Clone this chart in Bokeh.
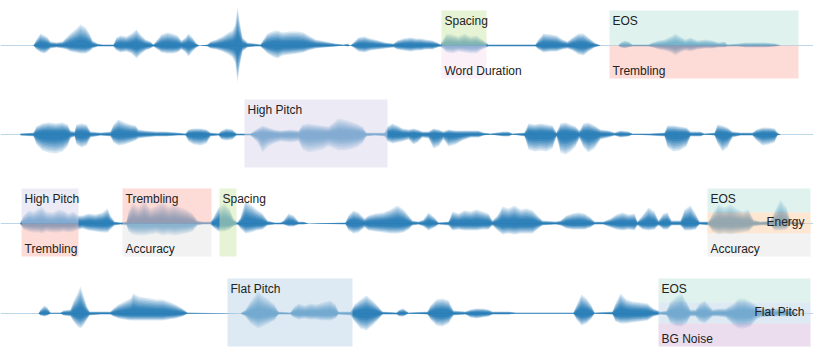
from bokeh.plotting import figure
from bokeh.models import Range1d
from bokeh.core.properties import value
from bokeh.embed import file_html
from bokeh.resources import INLINE

# ---- waveform envelopes: (time px, upper amplitude, lower amplitude)
row1_env = [(33,0,0),(36,6,4),(40,12,7),(44,10,8),(47,8,6),(50,4,3),(56,3,2),(62,4,3),(66,8,4),(70,12,6),
    (75,16,7),(80,21,8),(85,18,8),(89,12,6),(92,5,3),(97,2,1),(102,1,1),(113,1,1),(116,8,5),(120,10,7),
    (126,9,6),(131,12,8),(136,16,13),(140,11,9),(145,6,5),(150,4,3),(153,1,1),(157,6,4),(161,11,7),(167,13,8),
    (172,12,8),(177,10,7),(181,5,4),(185,8,7),(188,12,11),(192,8,6),(196,2,2),(199,0,0),(207,1,1),(210,4,3),
    (216,6,4),(222,9,6),(228,13,9),(232,15,12),(235,22,18),(237,39,37),(239,25,22),(242,8,6),(247,3,2),(255,2,1),
    (260,1,1),(263,6,4),(267,12,8),(272,14,11),(277,15,13),(282,13,10),(290,14,9),(297,14,8),(303,13,7),(308,10,5),
    (315,6,3),(325,4,2),(335,2,1),(343,1,0),(347,2,1),(350,0,0),(353,3,2),(358,8,6),(364,9,7),(370,7,5),
    (378,5,4),(385,3,3),(393,2,2),(397,5,4),(403,7,5),(410,8,6),(416,7,5),(420,7,5),(425,6,4),(432,5,4),
    (437,3,2),(440,1,1),(442,5,3),(446,12,7),(452,11,8),(458,9,6),(464,12,7),(470,9,8),(476,10,8),(482,6,4),
    (488,1,1),(535,1,1),(538,6,4),(543,12,7),(550,11,6),(556,10,6),(562,6,4),(567,4,3),(572,8,5),(578,12,9),
    (583,12,10),(588,8,6),(594,3,2),(600,0,0),(618,0,0),(620,3,2),(624,5,3),(628,4,2),(632,1,1),(648,1,1),
    (652,3,2),(658,5,4),(664,6,5),(670,9,7),(675,12,10),(680,9,7),(685,6,5),(690,8,6),(697,5,4),(705,6,3),
    (712,5,3),(718,3,2),(724,4,2),(727,1,1),(738,2,1),(745,3,2),(755,3,2),(765,3,2),(775,2,1),(780,0,0)]

row2_env = [(20,1,1),(33,2,2),(36,8,10),(42,11,16),(48,12,18),(55,11,19),(62,12,17),(67,10,12),(70,4,4),(74,3,2),
    (76,10,10),(81,11,13),(86,10,11),(90,3,3),(100,2,1),(110,3,2),(113,10,8),(118,15,11),(124,12,10),(130,10,8),
    (135,9,6),(138,5,4),(145,4,3),(155,3,2),(165,3,2),(177,2,1),(185,1,1),(188,5,7),(193,6,10),(200,6,11),
    (206,5,9),(210,2,2),(218,1,1),(221,4,5),(226,6,6),(232,5,5),(236,1,1),(250,1,1),(257,6,8),(262,9,18),
    (268,7,12),(274,5,9),(280,4,7),(290,5,8),(298,4,7),(302,10,15),(308,11,18),(314,10,17),(322,9,15),(328,8,12),
    (333,12,14),(338,16,16),(344,15,16),(350,13,15),(356,11,13),(362,8,9),(366,2,2),(375,2,1),(384,2,2),(387,8,7),
    (392,11,9),(397,9,8),(402,6,7),(408,5,5),(413,6,10),(417,5,8),(422,3,3),(428,3,4),(433,6,14),(438,5,12),
    (443,3,5),(448,5,12),(455,4,10),(462,4,6),(470,4,3),(478,4,3),(483,2,1),(490,1,0),(503,3,2),(508,3,2),
    (512,1,0),(524,2,2),(528,11,15),(534,10,17),(540,11,16),(546,10,17),(552,9,14),(556,2,2),(560,11,18),(565,12,20),
    (570,10,17),(575,8,12),(579,4,4),(583,11,13),(588,12,18),(594,9,14),(600,5,5),(608,4,3),(614,2,1),(620,4,3),
    (628,3,2),(632,1,0),(650,1,1),(664,2,2),(667,9,13),(673,9,17),(679,8,16),(686,7,12),(690,3,2),(700,3,2),
    (704,1,0),(714,2,1),(717,10,9),(722,9,17),(727,7,13),(732,3,3),(740,2,1),(752,2,1),(756,5,6),(762,7,11),
    (768,7,10),(774,6,8),(777,2,1),(780,0,0)]

row3_env = [(20,1,1),(23,8,6),(28,13,8),(33,12,9),(38,15,9),(41,17,10),(46,12,8),(52,11,9),(58,14,9),(63,13,8),
    (68,10,9),(73,12,8),(78,8,6),(82,8,5),(88,10,7),(95,9,8),(102,11,9),(107,15,9),(110,8,6),(114,2,2),
    (120,1,1),(126,2,2),(128,12,8),(132,20,11),(138,16,12),(144,22,12),(150,15,11),(156,18,10),(162,21,12),(168,17,11),
    (174,19,12),(180,16,11),(186,14,10),(192,10,8),(197,3,2),(202,2,1),(210,2,1),(213,6,4),(218,16,8),(224,20,8),
    (229,15,6),(233,5,3),(237,1,1),(240,6,5),(245,23,10),(250,19,9),(256,14,7),(262,10,6),(267,3,2),(274,1,1),
    (280,1,1),(283,3,1),(288,10,3),(293,8,3),(298,2,1),(303,2,1),(308,0,0),(345,1,1),(348,8,7),(353,13,10),
    (358,11,9),(364,5,4),(368,8,7),(375,10,8),(383,11,9),(390,14,10),(397,18,10),(403,14,9),(408,8,6),(412,3,2),
    (418,2,1),(423,4,3),(428,11,7),(434,6,4),(438,1,1),(448,2,2),(452,12,7),(458,10,6),(464,13,7),(470,12,7),
    (476,14,7),(482,12,6),(488,10,6),(492,3,2),(497,8,7),(502,17,11),(508,15,10),(514,18,11),(520,14,10),(526,15,10),
    (532,13,10),(538,7,5),(542,3,2),(555,2,1),(560,3,2),(566,8,5),(572,10,6),(578,11,6),(584,10,6),(590,6,4),
    (594,2,1),(603,2,1),(610,5,4),(616,9,6),(622,11,7),(628,9,6),(634,10,7),(637,2,2),(642,8,6),(648,16,7),
    (654,12,6),(658,3,2),(663,10,6),(667,11,6),(671,3,2),(680,3,2),(684,14,7),(690,18,7),(695,10,6),(699,2,1),
    (708,2,2),(712,10,8),(718,19,11),(724,16,10),(730,19,11),(736,15,10),(742,12,9),(748,14,8),(753,4,3),(760,2,2),
    (770,3,2),(774,12,7),(780,24,7),(786,16,6),(790,3,1),(800,1,1),(805,0,0)]

row4_env = [(38,0,0),(40,4,2),(44,8,3),(47,6,2),(50,1,0),(60,1,0),(63,3,2),(70,4,3),(73,12,8),(77,20,13),
    (80,27,15),(83,18,12),(86,8,7),(89,2,2),(100,2,1),(110,2,1),(113,5,3),(118,9,5),(124,12,6),(130,15,7),
    (133,20,7),(138,17,7),(144,16,7),(150,15,7),(156,14,7),(162,14,7),(168,12,6),(175,9,5),(182,5,3),(187,1,0),
    (240,0,0),(245,4,3),(250,12,10),(256,20,14),(258,22,15),(262,18,13),(268,14,10),(274,9,7),(278,2,1),(290,1,1),
    (293,6,4),(298,10,6),(304,8,5),(310,10,6),(316,9,6),(322,11,7),(330,13,7),(335,9,5),(338,2,1),(350,2,2),
    (354,9,8),(360,14,15),(366,18,17),(372,13,12),(377,8,7),(382,2,1),(396,1,1),(399,4,3),(403,5,3),(408,1,0),
    (427,2,1),(430,8,6),(436,14,12),(442,15,13),(448,13,10),(453,3,2),(465,2,1),(470,4,4),(476,5,5),(482,5,4),
    (488,4,3),(492,2,1),(498,2,1),(508,2,1),(515,1,0),(573,1,0),(576,8,6),(581,19,12),(586,15,10),(591,8,5),
    (594,1,0),(612,2,1),(615,10,8),(620,20,10),(626,14,10),(632,12,9),(640,11,8),(647,10,7),(653,5,3),(660,2,1),
    (666,3,2),(670,12,10),(676,17,13),(681,20,13),(686,12,10),(690,4,3),(695,4,3),(699,10,8),(704,13,10),(708,9,7),
    (712,4,3),(718,5,3),(725,5,4),(733,10,12),(738,15,15),(744,15,15),(750,12,13),(756,8,6),(760,5,4),(770,5,3),
    (780,5,3),(790,4,3),(795,1,0)]

# ---- annotations
ann_row   = [0, 0, 0, 0, 1, 2, 2, 2, 2, 2, 2, 2, 2, 3, 3, 3, 3]
ann_start = [441, 441, 609, 609, 244, 21, 21, 122, 122, 219, 707, 707, 707, 227, 658, 658, 658]
ann_end   = [486, 486, 798, 798, 387, 78, 78, 211, 211, 236, 810, 810, 810, 352, 810, 810, 810]
ann_band  = ["upper", "lower", "upper", "lower", "full", "upper", "lower", "upper", "lower", "full",
             "top3", "mid3", "bot3", "full", "top3", "mid3", "bot3"]
ann_label = ["Spacing", "Word Duration", "EOS", "Trembling", "High Pitch", "High Pitch", "Trembling",
             "Trembling", "Accuracy", "Spacing", "EOS", "Energy", "Accuracy", "Flat Pitch", "EOS",
             "Flat Pitch", "BG Noise"]

label_colors = {"Spacing": "#e7f3d5", "Word Duration": "#fcf0f8", "EOS": "#dff2ee", "Trembling": "#fddcd8",
                "High Pitch": "#ecebf5", "Accuracy": "#f2f2f2", "Energy": "#fde6d2", "Flat Pitch": "#dde9f3",
                "BG Noise": "#ebdcee"}

# ---- layout
W, H = 813, 357
ROW_BASE = [45, 134, 223, 313]
BANDS = {"upper": (-35, 0), "lower": (0, 33), "full": (-35, 33),
         "top3": (-35, -11), "mid3": (-11, 10), "bot3": (10, 33)}
WAVE = "#1f77b4"
OVER_ALPHA = 0.5
# soft-edged rendering of each envelope: (envelope scale, alpha)
LAYERS = [(1.0, 0.16), (0.9, 0.16), (0.8, 0.18), (0.7, 0.2), (0.6, 0.25), (0.5, 0.3), (0.4, 0.4), (0.28, 0.5)]

def overlay_color(hex_target, a=OVER_ALPHA):
    h = hex_target.lstrip("#")
    rgb = [int(h[i:i + 2], 16) for i in (0, 2, 4)]
    c = [max(0, min(255, round(255 - (255 - v) / a))) for v in rgb]
    return "#%02x%02x%02x" % tuple(c)

p = figure(width=W, height=H, output_backend="svg", toolbar_location=None,
           x_range=Range1d(0, W), y_range=Range1d(H, 0),
           x_axis_type=None, y_axis_type=None, min_border=0)
p.outline_line_color = None
p.xgrid.visible = False
p.ygrid.visible = False
p.background_fill_color = "white"

envs = [row1_env, row2_env, row3_env, row4_env]
for env, base in zip(envs, ROW_BASE):
    p.segment(x0=[0], y0=[base], x1=[W], y1=[base], line_color=WAVE, line_alpha=0.3, line_width=1)
    t = [e[0] for e in env]
    for k, a in LAYERS:
        p.varea(x=t, y1=[base - k * e[1] for e in env], y2=[base + k * e[2] for e in env],
                fill_color=WAVE, fill_alpha=a)

# boxes
for r, s, e, b, lab in zip(ann_row, ann_start, ann_end, ann_band, ann_label):
    base = ROW_BASE[r]
    top, bot = base + BANDS[b][0], base + BANDS[b][1]
    p.quad(left=[s], right=[e], top=[top], bottom=[bot], fill_color=overlay_color(label_colors[lab]),
           fill_alpha=OVER_ALPHA, line_color=None)

# labels
for r, s, e, b, lab in zip(ann_row, ann_start, ann_end, ann_band, ann_label):
    base = ROW_BASE[r]
    top, bot = base + BANDS[b][0], base + BANDS[b][1]
    if b in ("upper", "full", "top3"):
        x, y, align, tb = s + 3, top + 3, "left", "top"
    elif b == "mid3":
        x, y, align, tb = 804, top + 2, "right", "top"
    else:
        x, y, align, tb = s + 3, bot - 1, "left", "bottom"
    p.text(x=[x], y=[y], text=[lab], text_align=align, text_baseline=tb,
           text_font=value("Liberation Sans"), text_font_size="12px", text_color="#222222")

open("out.html", "w").write(file_html(p, INLINE))
